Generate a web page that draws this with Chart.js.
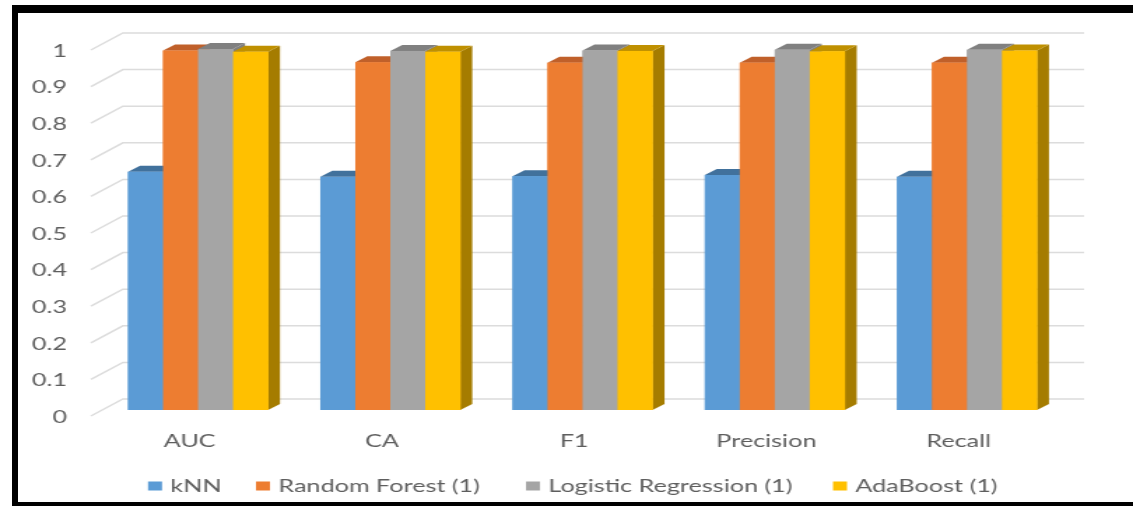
<!DOCTYPE html>
<html>
<head>
<meta charset="utf-8">
<title>Model comparison</title>
<script src="https://cdn.jsdelivr.net/npm/chart.js@4.4.1/dist/chart.umd.min.js"></script>
<style>
  html, body { margin: 0; padding: 0; background: #fff; }
  #frame { position: absolute; left: 0; top: 0; width: 1133px; height: 506px; overflow: hidden; background: #fff; }
  /* the chart is laid out narrow and widened horizontally */
  #stage { position: absolute; left: 0; top: 0; width: 810px; height: 506px; transform: scaleX(1.39877); transform-origin: 0 0; }
  .rule { position: absolute; background: #000; }
</style>
</head>
<body>
<div id="frame">
  <div id="stage"><canvas id="chart"></canvas></div>
  <div class="rule" style="left:12px; top:5px; width:1121px; height:8px;"></div>
  <div class="rule" style="left:12px; top:5px; width:6px; height:501px;"></div>
  <div class="rule" style="left:12px; top:502px; width:1121px; height:4px;"></div>
</div>
<script>
// ---- data ----
const categories = ['AUC', 'CA', 'F1', 'Precision', 'Recall'];
const seriesNames = ['kNN', 'Random Forest (1)', 'Logistic Regression (1)', 'AdaBoost (1)'];
const knnValues = [0.651, 0.637, 0.639, 0.642, 0.637];
const randomForestValues = [0.982, 0.950, 0.949, 0.949, 0.949];
const logisticRegressionValues = [0.986, 0.981, 0.982, 0.984, 0.984];
const adaBoostValues = [0.979, 0.979, 0.981, 0.980, 0.982];
const yTickValues = [0, 0.1, 0.2, 0.3, 0.4, 0.5, 0.6, 0.7, 0.8, 0.9, 1];

// ---- styling ----
const S = 1133 / 810;                     // horizontal widening of the stage
const frontColors = ['#5B9BD5', '#ED7D31', '#A5A5A5', '#FFC000'];
const topColors   = ['#41719C', '#C0602A', '#808080', '#BF9000'];
const sideColors  = ['#3F6E9A', '#B4561E', '#7F7F7F', '#A57C00'];
const TEXT = '#5E5E5E';
const FONT = 'Lato';

// depth offsets (stage px): bar depth, and wall front/back relative to the bar plane
const BAR_DX = 12 / S, BAR_DY = 6;
const WALL_FRONT_DX = 11 / S, WALL_FRONT_DY = 6;
const WALL_BACK_DX = 21 / S, WALL_BACK_DY = 11;

const seriesValues = [knnValues, randomForestValues, logisticRegressionValues, adaBoostValues];

// back wall gridlines with the receding side-wall segment on the left
const wallGrid = {
  id: 'wallGrid',
  beforeDatasetsDraw(chart) {
    const { ctx, chartArea: { left, right } } = chart;
    const ys = chart.scales.y;
    ctx.save();
    ctx.strokeStyle = '#DCDCDC';
    ctx.lineWidth = 1.5;
    ys.ticks.forEach(t => {
      const y = ys.getPixelForValue(t.value);
      ctx.beginPath();
      ctx.moveTo(left - WALL_FRONT_DX, y + WALL_FRONT_DY);
      ctx.lineTo(left + WALL_BACK_DX, y - WALL_BACK_DY);
      ctx.lineTo(right + WALL_BACK_DX, y - WALL_BACK_DY);
      ctx.stroke();
    });
    ctx.restore();
  }
};

// extrude each bar: right face, top face, then front face, left to right
const extrude = {
  id: 'extrude',
  afterDatasetsDraw(chart) {
    const ctx = chart.ctx;
    const n = chart.data.labels.length;
    ctx.save();
    for (let i = 0; i < n; i++) {
      chart.data.datasets.forEach((ds, d) => {
        const bar = chart.getDatasetMeta(d).data[i];
        const { x, y, base, width } = bar.getProps(['x', 'y', 'base', 'width'], true);
        const x0 = x - width / 2, x1 = x + width / 2;
        // right face
        ctx.fillStyle = sideColors[d];
        ctx.beginPath();
        ctx.moveTo(x1, y);
        ctx.lineTo(x1 + BAR_DX, y - BAR_DY);
        ctx.lineTo(x1 + BAR_DX, base - BAR_DY);
        ctx.lineTo(x1, base);
        ctx.closePath();
        ctx.fill();
        // top face
        ctx.fillStyle = topColors[d];
        ctx.beginPath();
        ctx.moveTo(x0, y);
        ctx.lineTo(x1, y);
        ctx.lineTo(x1 + BAR_DX, y - BAR_DY);
        ctx.lineTo(x0 + BAR_DX, y - BAR_DY);
        ctx.closePath();
        ctx.fill();
        // front face
        ctx.fillStyle = frontColors[d];
        ctx.fillRect(x0, y, width + 0.3, base - y);
      });
    }
    ctx.restore();
  }
};

// legend row along the bottom
const legendRow = {
  id: 'legendRow',
  afterDraw(chart) {
    const ctx = chart.ctx;
    const starts = [148, 256, 526, 833].map(v => v / S);
    const cy = 486;
    ctx.save();
    ctx.font = `18px ${FONT}`;
    ctx.textBaseline = 'middle';
    ctx.textAlign = 'left';
    chart.data.datasets.forEach((ds, d) => {
      const bx = starts[d];
      ctx.fillStyle = ds.backgroundColor;
      ctx.fillRect(bx, cy - 4.5, 10, 9);
      ctx.fillStyle = TEXT;
      ctx.fillText(ds.label, bx + 16, cy);
    });
    ctx.restore();
  }
};

new Chart(document.getElementById('chart'), {
  type: 'bar',
  data: {
    labels: categories,
    datasets: seriesNames.map((name, d) => ({
      label: name,
      data: seriesValues[d],
      backgroundColor: frontColors[d],
      borderWidth: 0,
      categoryPercentage: 0.728,
      barPercentage: 1
    }))
  },
  options: {
    responsive: true,
    maintainAspectRatio: false,
    animation: false,
    events: [],
    devicePixelRatio: 1,
    layout: { padding: { left: 0, right: 810 - 1063.1 / S, top: 44, bottom: 0 } },
    plugins: { legend: { display: false }, tooltip: { enabled: false } },
    scales: {
      x: {
        type: 'category',
        offset: true,
        grid: { display: false, drawTicks: false },
        border: { display: false },
        ticks: {
          color: TEXT,
          font: { family: FONT, size: 18 },
          labelOffset: -6,
          padding: 20,
          maxRotation: 0,
          autoSkip: false
        },
        afterFit(scale) { scale.height = 96; }
      },
      y: {
        min: 0,
        max: 1,
        grid: { display: false, drawTicks: false },
        border: { display: false },
        afterBuildTicks(scale) { scale.ticks = yTickValues.map(v => ({ value: v })); },
        ticks: {
          color: TEXT,
          font: { family: FONT, size: 18 },
          padding: 25,
          labelOffset: 7,
          callback: v => String(Math.round(v * 10) / 10)
        },
        afterFit(scale) { scale.width = 101.9 / S; }
      }
    }
  },
  plugins: [wallGrid, extrude, legendRow]
});
</script>
</body>
</html>
